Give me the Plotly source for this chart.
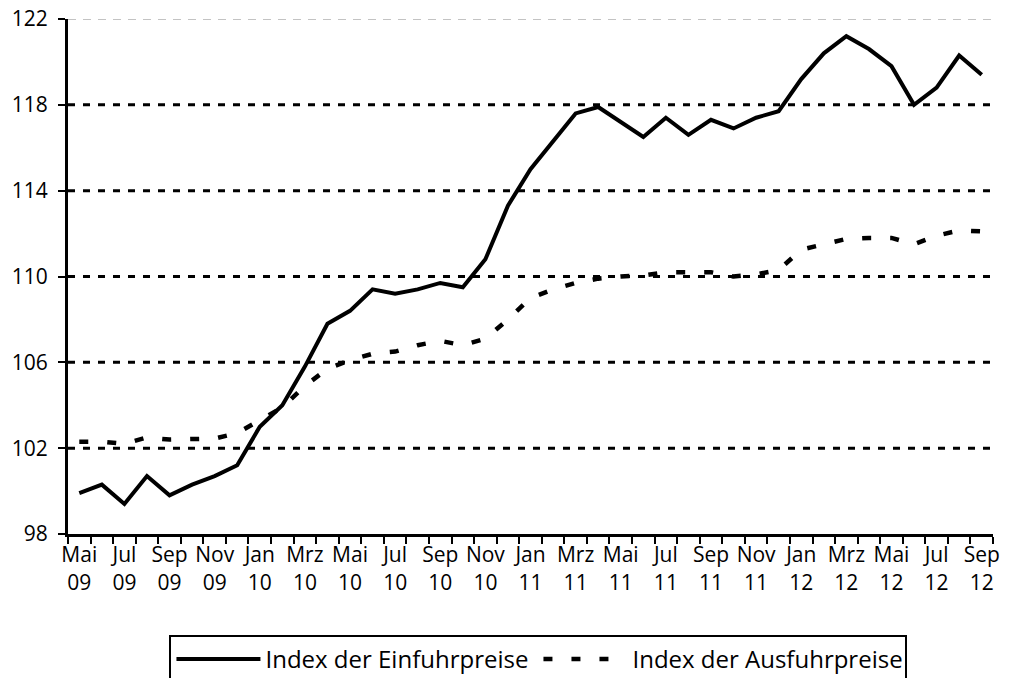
import plotly.graph_objects as go

months = ["Mai 09","Jun 09","Jul 09","Aug 09","Sep 09","Okt 09","Nov 09","Dez 09",
          "Jan 10","Feb 10","Mrz 10","Apr 10","Mai 10","Jun 10","Jul 10","Aug 10",
          "Sep 10","Okt 10","Nov 10","Dez 10","Jan 11","Feb 11","Mrz 11","Apr 11",
          "Mai 11","Jun 11","Jul 11","Aug 11","Sep 11","Okt 11","Nov 11","Dez 11",
          "Jan 12","Feb 12","Mrz 12","Apr 12","Mai 12","Jun 12","Jul 12","Aug 12","Sep 12"]

einfuhr = [99.9,100.3,99.4,100.7,99.8,100.3,100.7,101.2,
           103.0,104.0,105.8,107.8,108.4,109.4,109.2,109.4,
           109.7,109.5,110.8,113.3,115.0,116.3,117.6,117.9,
           117.2,116.5,117.4,116.6,117.3,116.9,117.4,117.7,
           119.2,120.4,121.2,120.6,119.8,118.0,118.8,120.3,119.4]

ausfuhr = [102.3,102.3,102.2,102.5,102.4,102.4,102.45,102.7,
           103.3,103.9,104.9,105.7,106.1,106.4,106.5,106.8,
           107.0,106.8,107.1,108.0,109.0,109.4,109.7,109.9,
           110.0,110.05,110.2,110.2,110.2,110.0,110.1,110.3,
           111.25,111.5,111.75,111.8,111.8,111.5,111.9,112.15,112.1]

y_ticks = [98, 102, 106, 110, 114, 118, 122]

# label every other month, two lines
tick_text = [(m.replace(" ", "<br>") if i % 2 == 0 else "") for i, m in enumerate(months)]

fig = go.Figure()
fig.add_trace(go.Scatter(x=months, y=einfuhr, mode="lines", name="Index der Einfuhrpreise",
                         line=dict(color="black", width=4)))
fig.add_trace(go.Scatter(x=months, y=ausfuhr, mode="lines", name="Index der Ausfuhrpreise",
                         line=dict(color="black", width=4.5, dash="9px,19px")))

for v in y_ticks[1:]:
    if v == 122:
        fig.add_shape(type="line", xref="paper", yref="y", x0=0, x1=1, y0=v, y1=v,
                      line=dict(color="#888888", width=1, dash="8px,7px"), layer="below")
    else:
        fig.add_shape(type="line", xref="paper", yref="y", x0=0, x1=1, y0=v, y1=v,
                      line=dict(color="black", width=3, dash="7px,8px"), layer="below")

fam = "Open Sans, Noto Sans, sans-serif"
fnt = dict(family=fam, size=21, color="black")
lfnt = dict(family=fam, size=24, color="black")

fig.update_layout(
    width=1011, height=678,
    margin=dict(l=68, r=18, t=19, b=144, autoexpand=False),
    paper_bgcolor="white", plot_bgcolor="white",
    font=fnt,
    showlegend=True,
    legend=dict(orientation="h", x=0.5086, xanchor="center", y=-0.196, yanchor="top",
                bordercolor="black", borderwidth=2, font=lfnt, itemwidth=84,
                entrywidth=268, entrywidthmode="pixels", tracegroupgap=0),
    xaxis=dict(type="category", tickmode="array", tickvals=months, ticktext=tick_text,
               tickson="boundaries", ticks="outside", ticklen=7, tickwidth=2, tickcolor="black",
               showline=True, linecolor="black", linewidth=3, showgrid=False, automargin=False,
               range=[-0.5, len(months) - 0.5], tickangle=0, tickfont=fnt,
               ticklabeloverflow="allow"),
    yaxis=dict(range=[98, 122], tickvals=y_ticks, ticks="outside", ticklen=7, tickwidth=2,
               tickcolor="black", showline=True, linecolor="black", linewidth=3,
               showgrid=False, zeroline=False, tickfont=fnt, automargin=False,
               ticklabelstandoff=6, ticklabeloverflow="allow"),
)

fig.write_html("out.html", config={"displayModeBar": False},
               post_script="document.body.style.margin='0';document.body.style.overflow='hidden';")
